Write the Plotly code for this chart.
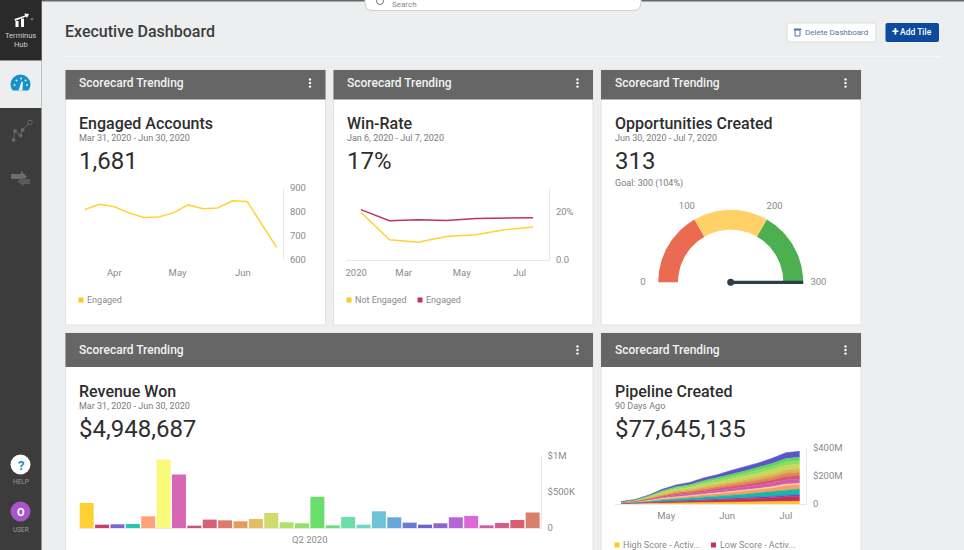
import numpy as np
import plotly.graph_objects as go

W, H = 964, 550
FONT = "Roboto"
GREY = "#8a8a8a"
YELLOW = "#ffc81e"
CRIMSON = "#c2305f"

# Engaged Accounts
engaged_dates = ["2020-03-18", "2020-03-25", "2020-04-01", "2020-04-08", "2020-04-15", "2020-04-22", "2020-04-29",
                 "2020-05-06", "2020-05-13", "2020-05-20", "2020-05-27", "2020-06-03", "2020-06-10", "2020-06-17"]
engaged_values = [809, 831, 820, 795, 776, 778, 795, 828, 812, 815, 845, 842, 747, 652]
engaged_tickvals = ["2020-04-01", "2020-05-01", "2020-06-01"]
engaged_ticktext = ["Apr", "May", "Jun"]
engaged_yticks = [600, 700, 800, 900]

# Win-Rate
winrate_dates = ["2020-01-16", "2020-02-15", "2020-03-16", "2020-04-15", "2020-05-16", "2020-06-15", "2020-07-15"]
winrate_not_engaged = [19.9, 8.4, 7.4, 9.8, 10.5, 12.6, 13.7]
winrate_engaged = [21.0, 16.4, 16.8, 16.5, 17.3, 17.3, 17.6]
winrate_tickvals = ["2020-01-11", "2020-03-01", "2020-05-01", "2020-07-01"]
winrate_ticktext = ["2020", "Mar", "May", "Jul"]
winrate_yticks = [0, 20]
winrate_yticktext = ["0.0", "20%"]

# Opportunities Created
gauge_value = 313
gauge_edges = [0, 100, 200, 300]
gauge_colors = ["#ea6a52", "#ffd166", "#4caf50"]

# Revenue Won
revenue_values = [347, 46, 51, 56, 162, 949, 741, 32, 116, 106, 93, 125, 208, 79, 65, 431,
                  37, 153, 46, 231, 148, 74, 46, 65, 148, 167, 37, 69, 111, 213]
revenue_colors = ["#ffcc22", "#c42e5c", "#6a5acd", "#17bfa8", "#ff9a6b", "#faf86e", "#d45ab0", "#cb4070",
                  "#d35468", "#dc7060", "#e09550", "#ddb857", "#ccd85e", "#aede5e", "#86de5f", "#5cdb5e",
                  "#5fdb72", "#5fdba0", "#5fd5c4", "#5fbed5", "#5c9ed8", "#5870d2", "#5c55cc", "#8258d0",
                  "#b058d5", "#d85ad5", "#cc4fa5", "#d0507f", "#d9505f", "#d4765f"]
revenue_yticks = [0, 500, 1000]
revenue_yticktext = ["0", "$500K", "$1M"]

# Pipeline Created, bottom layer first
pipeline_dates = ["2020-04-08", "2020-04-15", "2020-04-22", "2020-04-29", "2020-05-06", "2020-05-13", "2020-05-20",
                  "2020-05-27", "2020-06-03", "2020-06-10", "2020-06-17", "2020-06-24", "2020-07-01", "2020-07-08"]
pipeline_layers = [
    [2, 3, 4, 6, 7, 8, 9, 10, 11, 12, 14, 16, 18, 19],
    [2, 3, 5, 8, 11, 13, 15, 17, 20, 22, 25, 28, 33, 35],
    [1, 1, 2, 3, 4, 5, 6, 6, 7, 8, 9, 10, 12, 12],
    [2, 4, 7, 11, 14, 16, 19, 22, 25, 28, 31, 34, 39, 40],
    [2, 3, 6, 9, 12, 13, 16, 18, 20, 22, 24, 26, 30, 31],
    [0, 1, 2, 3, 4, 4, 5, 5, 6, 7, 7, 8, 9, 9],
    [1, 2, 5, 9, 12, 13, 16, 18, 20, 22, 24, 27, 30, 31],
    [1, 2, 4, 7, 9, 10, 12, 14, 16, 17, 19, 21, 24, 24],
    [1, 2, 4, 7, 9, 10, 12, 13, 15, 17, 19, 21, 23, 24],
    [1, 2, 4, 7, 9, 10, 12, 13, 15, 17, 19, 21, 23, 24],
    [1, 2, 6, 10, 13, 15, 18, 20, 23, 26, 28, 32, 34, 35],
    [1, 2, 4, 7, 9, 10, 13, 15, 16, 18, 20, 22, 24, 24],
    [1, 2, 4, 7, 9, 10, 12, 14, 16, 18, 20, 22, 24, 24],
    [1, 2, 6, 10, 13, 16, 20, 23, 28, 31, 33, 37, 42, 42],
]
pipeline_colors = ["#ffc81e", "#c62e5a", "#6a4fc5", "#12b9a6", "#ff9b6a", "#fce98e", "#d05cb0",
                   "#d8586a", "#e08a52", "#ddb455", "#c8d85c", "#8fdc5e", "#5cd85e", "#5a56c8"]
pipeline_tickvals = ["2020-05-01", "2020-06-01", "2020-07-01"]
pipeline_ticktext = ["May", "Jun", "Jul"]
pipeline_yticks = [0, 200, 400]
pipeline_yticktext = ["0", "$200M", "$400M"]


def dom_x(x0, x1):
    return [x0 / W, x1 / W]


def dom_y(y_top, y_bottom):
    return [1 - y_bottom / H, 1 - y_top / H]


def rect(x0, y0, x1, y1, fill, line=None, kind="rect"):
    return dict(type=kind, xref="paper", yref="paper", x0=x0 / W, x1=x1 / W, y0=1 - y0 / H, y1=1 - y1 / H,
                fillcolor=fill, line=dict(color=line or fill, width=1 if line else 0), layer="below")


def circle(cx, cy, r, fill, line=None):
    return rect(cx - r, cy - r, cx + r, cy + r, fill, line, kind="circle")


def to_path(commands):
    # commands in pixels, e.g. ("M", x, y) or ("Q", cx, cy, x, y)
    parts = []
    for c in commands:
        nums = []
        for i, v in enumerate(c[1:]):
            nums.append(f"{v / W:.5f}" if i % 2 == 0 else f"{1 - v / H:.5f}")
        parts.append(c[0] + " " + " ".join(nums))
    return " ".join(parts)


def path(commands, fill, line=None, width=1, close=True):
    return dict(type="path", xref="paper", yref="paper", path=to_path(commands) + (" Z" if close else ""),
                fillcolor=fill if close else "rgba(0,0,0,0)", line=dict(color=line or fill, width=width if line else 0),
                layer="below")


def poly(points, fill):
    return path([("M", *points[0])] + [("L", *p) for p in points[1:]], fill)


def round_rect(x0, y0, x1, y1, r, fill, line=None):
    return path([("M", x0 + r, y0), ("L", x1 - r, y0), ("Q", x1, y0, x1, y0 + r), ("L", x1, y1 - r),
                 ("Q", x1, y1, x1 - r, y1), ("L", x0 + r, y1), ("Q", x0, y1, x0, y1 - r), ("L", x0, y0 + r),
                 ("Q", x0, y0, x0 + r, y0)], fill, line)


def label(x, y, s, size, color, weight=400, anchor="left"):
    # left anchored annotations land about a pixel to the right
    if anchor == "left":
        x -= 1
    return dict(text=s, xref="paper", yref="paper", x=x / W, y=1 - y / H, xanchor=anchor, yanchor="middle",
                showarrow=False, borderpad=0, font=dict(family=FONT, size=size, color=color, weight=weight))


shapes = []
notes = []

# page chrome
shapes.append(rect(0, 0, W, 1.5, "#666666"))
shapes.append(rect(0, 0, 41.5, 550, "#3c3c3c"))
shapes.append(rect(0, 0, 41.5, 60.5, "#2a2a2a"))
shapes.append(rect(0, 60.5, 41.5, 108, "#edeeef"))
shapes.append(round_rect(365, -12, 641, 10.5, 8, "#ffffff", "#cfcfcf"))
shapes.append(circle(380, 1, 3.5, "rgba(0,0,0,0)", "#777777"))
shapes.append(rect(64, 56, 940, 57, "#f7f7f7"))
notes.append(label(392, 5, "Search", 8, "#888888"))
notes.append(label(65, 31, "Executive Dashboard", 16, "#3c3c3c", 500))

shapes.append(round_rect(787, 23, 876, 42, 2, "#ffffff", "#dddddd"))
shapes.append(round_rect(885.5, 23, 939, 42, 2, "#0e4a9c"))
notes.append(label(805, 32.5, "Delete Dashboard", 8, "#5575a5"))
notes.append(label(900, 32.5, "Add Tile", 8.5, "#ffffff", 500))
notes.append(label(895.5, 32, "+", 12, "#ffffff", 700, anchor="center"))
shapes.append(rect(795, 30, 800, 36, "rgba(0,0,0,0)", "#5575a5"))
shapes.append(rect(794, 29, 801, 29.6, "#5575a5", "#5575a5"))

# sidebar icons
notes.append(label(20.5, 35.5, "Terminus", 7.5, "#d0d0d0", anchor="center"))
notes.append(label(20.5, 45, "Hub", 7.5, "#d0d0d0", anchor="center"))
shapes.append(poly([(14.5, 19), (25, 15.5), (24.5, 13.5), (29, 14), (27, 18), (26, 16.5), (15, 21)], "#ffffff"))
shapes.append(rect(15.5, 21, 18.5, 27, "#ffffff"))
shapes.append(rect(21, 18.5, 24, 27, "#ffffff"))
shapes.append(poly([(30, 18.5), (34, 18.5), (32, 20.5)], "#888888"))

shapes.append(circle(20.5, 84.5, 10, "#1590c8"))
shapes.append(rect(9, 90.5, 32, 96, "#edeeef"))
for cx, cy in [(14.5, 85), (16.5, 80.5), (21, 78.5), (25.5, 80.5), (27, 85)]:
    shapes.append(circle(cx, cy, 1, "#edeeef"))
shapes.append(poly([(18.5, 90.5), (21.5, 81.5), (23, 82), (22.5, 90.5)], "#edeeef"))

route = [(13.5, 140), (15, 131), (20.5, 135.5), (22.5, 130), (29.5, 123)]
shapes.append(path([("M", *route[0])] + [("L", *p) for p in route[1:]], "", "#666666", 1, close=False))
for cx, cy in route[:4]:
    shapes.append(circle(cx, cy, 2, "#666666"))
shapes.append(circle(30, 122.5, 2.2, "#3c3c3c", "#666666"))
shapes.append(poly([(11, 174), (21, 174), (21, 171), (27, 176.5), (21, 182), (21, 179), (11, 179)], "#6c6c6c"))
shapes.append(poly([(30, 179), (24, 179), (24, 177), (17, 181.5), (24, 186), (24, 184), (30, 184)], "#5a5a5a"))

shapes.append(circle(20.5, 464.5, 10, "#ffffff"))
notes.append(label(20.5, 465, "?", 13, "#1590c8", 700, anchor="center"))
notes.append(label(20.5, 482, "HELP", 6.5, "#9a9a9a", anchor="center"))
shapes.append(circle(20.5, 511.5, 10, "#a855c8"))
notes.append(label(20.5, 512, "O", 11, "#ffffff", 700, anchor="center"))
notes.append(label(20.5, 530, "USER", 6.5, "#9a9a9a", anchor="center"))

# cards: left, right, header top, header bottom, header text y, bottom
cards = [
    (65.5, 325.5, 70, 99.5, 83, 325),
    (333.5, 593, 70, 99.5, 83, 325),
    (601, 861, 70, 99.5, 83, 325),
    (65.5, 593, 333, 367, 350, 560),
    (601, 861, 333, 367, 350, 560),
]
for x0, x1, y0, y1, mid, y2 in cards:
    shapes.append(rect(x0, y0, x1, y2, "#ffffff", "#e2e2e2"))
    shapes.append(rect(x0, y0, x1, y1, "#666666"))
    notes.append(label(x0 + 13.5, mid, "Scorecard Trending", 12, "#f2f2f2", 500))
    for dy in (-3.6, 0, 3.6):
        shapes.append(circle(x1 - 15.5, mid + dy, 1.2, "#ffffff"))

titles = [
    (79, 123, "Engaged Accounts", "Mar 31, 2020 - Jun 30, 2020", "1,681"),
    (347, 123, "Win-Rate", "Jan 6, 2020 - Jul 7, 2020", "17%"),
    (615, 123, "Opportunities Created", "Jun 30, 2020 - Jul 7, 2020", "313"),
    (79, 391, "Revenue Won", "Mar 31, 2020 - Jun 30, 2020", "$4,948,687"),
    (615, 391, "Pipeline Created", "90 Days Ago", "$77,645,135"),
]
for x, y, title, sub, big in titles:
    notes.append(label(x, y, title, 16, "#2e2e2e", 500))
    notes.append(label(x, y + 15, sub, 9, "#7a7a7a"))
    notes.append(label(x, y + 38, big, 24, "#2e2e2e"))
notes.append(label(615, 184, "Goal: 300 (104%)", 9, "#7a7a7a"))

# legends
legend_items = [
    (81, 300, YELLOW, "Engaged"), (349, 300, YELLOW, "Not Engaged"), (420, 300, CRIMSON, "Engaged"),
    (617, 545, YELLOW, "High Score - Activ..."), (713.5, 545, CRIMSON, "Low Score - Activ..."),
]
for x, y, color, name in legend_items:
    shapes.append(rect(x - 2.5, y - 2.5, x + 2.5, y + 2.5, color))
    notes.append(label(x + 6, y, name, 9, GREY))

fig = go.Figure()

fig.add_trace(go.Scatter(x=engaged_dates, y=engaged_values, mode="lines", xaxis="x", yaxis="y",
                         line=dict(color="#ffd333", width=1.5)))

fig.add_trace(go.Scatter(x=winrate_dates, y=winrate_not_engaged, mode="lines", xaxis="x2", yaxis="y2",
                         line=dict(color="#ffd333", width=1.5)))
fig.add_trace(go.Scatter(x=winrate_dates, y=winrate_engaged, mode="lines", xaxis="x2", yaxis="y2",
                         line=dict(color=CRIMSON, width=1.5)))

# gauge is drawn on hidden axes scaled to its outer radius so the needle can sit on top of the arc
inner = 52.7 / 72.5
for i, color in enumerate(gauge_colors):
    a = np.pi * (1 - np.linspace(gauge_edges[i], gauge_edges[i + 1], 40) / gauge_edges[-1])
    xs = np.concatenate([np.cos(a), inner * np.cos(a[::-1])])
    ys = np.concatenate([np.sin(a), inner * np.sin(a[::-1])])
    fig.add_trace(go.Scatter(x=xs, y=ys, mode="lines", fill="toself", fillcolor=color, xaxis="x3", yaxis="y3",
                             line=dict(width=0, color=color)))
needle = np.pi * (1 - min(gauge_value, gauge_edges[-1]) / gauge_edges[-1])
fig.add_trace(go.Scatter(x=[0, np.cos(needle)], y=[0, np.sin(needle)], mode="lines", xaxis="x3", yaxis="y3",
                         line=dict(color="#2f3f4a", width=3.2)))
fig.add_trace(go.Scatter(x=[0], y=[0], mode="markers", xaxis="x3", yaxis="y3",
                         marker=dict(color="#2f3f4a", size=7)))
tick_angles = np.pi * (1 - np.array(gauge_edges) / gauge_edges[-1])
fig.add_trace(go.Scatter(x=1.21 * np.cos(tick_angles), y=1.21 * np.sin(tick_angles), mode="text",
                         text=[str(v) for v in gauge_edges], xaxis="x3", yaxis="y3", cliponaxis=False,
                         textfont=dict(family=FONT, size=9.5, color=GREY)))

fig.add_trace(go.Bar(x=list(range(len(revenue_values))), y=revenue_values, xaxis="x4", yaxis="y4",
                     marker=dict(color=revenue_colors, opacity=0.92, line=dict(width=0))))

for values, color in zip(pipeline_layers, pipeline_colors):
    fig.add_trace(go.Scatter(x=pipeline_dates, y=values, mode="lines", stackgroup="pipeline", xaxis="x5", yaxis="y5",
                             line=dict(width=0.6, color=color), fillcolor=color))

tick_font = dict(family=FONT, size=9.5, color=GREY)
AXIS_LINE = "#e6e6e6"


def x_axis(left, right, rng, tickvals, ticktext, line=False, standoff=5):
    return dict(domain=dom_x(left, right), range=rng, tickmode="array", tickvals=tickvals,
                ticktext=ticktext, showgrid=False, zeroline=False, ticks="", tickfont=tick_font,
                showline=line, linecolor=AXIS_LINE, ticklabelstandoff=standoff, tickangle=0)


def y_axis(top, bottom, rng, tickvals, ticktext, standoff=4):
    return dict(domain=dom_y(top, bottom), range=rng, tickmode="array", tickvals=tickvals, ticktext=ticktext,
                side="right", showgrid=False, zeroline=False, ticks="", tickfont=tick_font, showline=True,
                linecolor=AXIS_LINE, ticklabelstandoff=standoff)


hidden = dict(showgrid=False, zeroline=False, showticklabels=False, showline=False, ticks="")
span = 100 / 72.5

fig.update_layout(
    width=W, height=H, autosize=False, margin=dict(l=0, r=0, t=0, b=0, autoexpand=False), showlegend=False,
    paper_bgcolor="#edeeef", plot_bgcolor="rgba(0,0,0,0)", font=dict(family=FONT), bargap=0.09,
    shapes=shapes, annotations=notes,
    xaxis=dict(x_axis(81, 283, ["2020-03-16 05:00", "2020-06-20 00:00"], engaged_tickvals, engaged_ticktext),
               anchor="y"),
    yaxis=dict(y_axis(187.5, 260, [600, 900], engaged_yticks, [str(v) for v in engaged_yticks]), anchor="x"),
    xaxis2=dict(x_axis(346, 549, ["2019-12-31 08:00", "2020-07-31 20:00"], winrate_tickvals, winrate_ticktext,
                       line=True, standoff=4), anchor="y2"),
    yaxis2=dict(y_axis(188, 260, [0, 30], winrate_yticks, winrate_yticktext), anchor="x2"),
    xaxis3=dict(hidden, domain=dom_x(630.7, 830.7), range=[-span, span], anchor="y3"),
    yaxis3=dict(hidden, domain=dom_y(190, 300), range=[-17.7 / 72.5, 92.3 / 72.5], anchor="x3"),
    xaxis4=dict(x_axis(79, 540.7, [-0.5, 29.52], [14.5], ["Q2 2020"], line=True, standoff=3), anchor="y4"),
    yaxis4=dict(y_axis(455.7, 528, [0, 1000], revenue_yticks, revenue_yticktext), anchor="x4"),
    xaxis5=dict(x_axis(615, 806, ["2020-04-04 22:00", "2020-07-11 05:00"], pipeline_tickvals, pipeline_ticktext,
                       line=True, standoff=3), anchor="y5"),
    yaxis5=dict(y_axis(447.7, 504, [0, 400], pipeline_yticks, pipeline_yticktext), anchor="x5"),
)

fig.write_html("out.html", config={"displayModeBar": False},
               post_script="document.body.style.margin='0';document.body.style.overflow='hidden';")
